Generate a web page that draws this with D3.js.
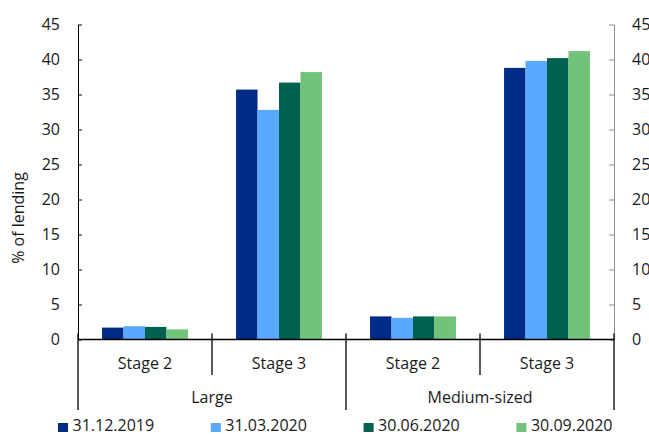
<!DOCTYPE html>
<html>
<head>
<meta charset="utf-8">
<script src="https://cdn.jsdelivr.net/npm/d3@7"></script>
<style>
  html, body { margin: 0; padding: 0; background: #fff; }
  svg { display: block; font-family: "Open Sans", sans-serif; }
  text { fill: #1a1a1a; }
</style>
</head>
<body>
<svg id="chart" width="649" height="435"></svg>
<script>
// Bank size groups and loan stages
const sizes = ["Large", "Medium-sized"];
const stages = ["Stage 2", "Stage 3"];
const seriesNames = ["31.12.2019", "31.03.2020", "30.06.2020", "30.09.2020"];
const seriesColors = ["#002b87", "#58a9ff", "#00624f", "#72c37a"];

// % of lending, one array per reporting date, ordered Large S2, Large S3, Medium S2, Medium S3
const values2019Q4 = [1.7, 35.7, 3.3, 38.8];
const values2020Q1 = [1.9, 32.8, 3.1, 39.8];
const values2020Q2 = [1.8, 36.7, 3.3, 40.2];
const values2020Q3 = [1.45, 38.2, 3.3, 41.2];
const seriesValues = [values2019Q4, values2020Q1, values2020Q2, values2020Q3];

const yTicks = [0, 5, 10, 15, 20, 25, 30, 35, 40, 45];

const svg = d3.select("#chart");
const plotLeft = 78, plotRight = 614, plotTop = 24.5, plotBottom = 339.5;

const categories = [];
sizes.forEach(s => stages.forEach(st => categories.push(s + "|" + st)));

const x0 = d3.scaleBand().domain(categories).range([plotLeft, plotRight]).paddingInner(0).paddingOuter(0);
const x1 = d3.scaleBand().domain(seriesNames).range([0, x0.bandwidth()]).paddingInner(0).paddingOuter(1.12);
const y = d3.scaleLinear().domain([0, 45]).range([plotBottom, plotTop]);

// Bars
seriesNames.forEach((name, si) => {
  svg.append("g")
    .selectAll("rect")
    .data(categories.map((c, ci) => ({ c, v: seriesValues[si][ci] })))
    .join("rect")
    .attr("x", d => x0(d.c) + x1(name))
    .attr("width", x1.bandwidth())
    .attr("y", d => y(d.v))
    .attr("height", d => y(0) - y(d.v))
    .attr("fill", seriesColors[si]);
});

// Left value axis
const leftAxis = svg.append("g")
  .attr("transform", `translate(${plotLeft},0)`)
  .call(d3.axisLeft(y).tickValues(yTicks).tickSizeInner(-4).tickSizeOuter(0).tickPadding(18));
leftAxis.select(".domain").attr("stroke", "#000");
leftAxis.selectAll(".tick line").attr("stroke", "#000");
leftAxis.selectAll("text").attr("font-size", 16).attr("font-family", "Open Sans").attr("fill", "#1a1a1a");

// Right value axis
const rightAxis = svg.append("g")
  .attr("transform", `translate(${plotRight},0)`)
  .call(d3.axisRight(y).tickValues(yTicks).tickSizeInner(-5).tickSizeOuter(0).tickPadding(18));
rightAxis.select(".domain").attr("stroke", "#8c8c8c");
rightAxis.selectAll(".tick line").attr("stroke", "#8c8c8c");
rightAxis.selectAll("text").attr("font-size", 16).attr("font-family", "Open Sans").attr("fill", "#1a1a1a");

// Axis title
svg.append("text")
  .attr("transform", "translate(24,218) rotate(-90)")
  .attr("text-anchor", "middle")
  .attr("font-size", 16)
  .text("% of lending");

// Category axis baseline
svg.append("line")
  .attr("x1", plotLeft).attr("x2", plotRight)
  .attr("y1", y(0)).attr("y2", y(0))
  .attr("stroke", "#000").attr("stroke-width", 1.5);

// Dividers: short ones between stages, long ones between size groups
const catAxis = svg.append("g").attr("stroke", "#000").attr("stroke-width", 1.3);
sizes.forEach(s => {
  const mid = x0(s + "|" + stages[1]);
  catAxis.append("line").attr("x1", mid).attr("x2", mid).attr("y1", y(0) - 6).attr("y2", 375);
});
const outerEdges = [plotLeft, x0(sizes[1] + "|" + stages[0]), plotRight];
outerEdges.forEach(xv => {
  catAxis.append("line").attr("x1", xv).attr("x2", xv).attr("y1", y(0) - 6).attr("y2", 410);
});

// Stage labels
svg.append("g").selectAll("text")
  .data(categories)
  .join("text")
  .attr("x", d => x0(d) + x0.bandwidth() / 2)
  .attr("y", 369)
  .attr("text-anchor", "middle")
  .attr("font-size", 16)
  .text(d => d.split("|")[1]);

// Size group labels
svg.append("g").selectAll("text")
  .data(sizes)
  .join("text")
  .attr("x", d => x0(d + "|" + stages[0]) + x0.bandwidth())
  .attr("y", 403)
  .attr("text-anchor", "middle")
  .attr("font-size", 16)
  .text(d => d);

// Legend
const legend = svg.append("g");
seriesNames.forEach((name, i) => {
  const lx = 58 + i * 152.8;
  legend.append("rect").attr("x", lx).attr("y", 423).attr("width", 10).attr("height", 9).attr("fill", seriesColors[i]);
  legend.append("text").attr("x", lx + 14.5).attr("y", 430.5).attr("font-size", 16).text(name);
});
</script>
</body>
</html>
